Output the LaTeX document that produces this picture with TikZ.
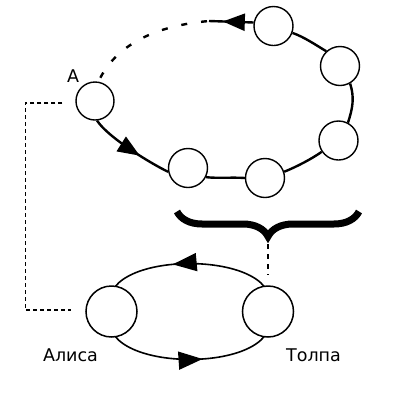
\documentclass[tikz,border=0pt]{standalone}
\usepackage{fontspec}
\setmainfont{DejaVu Sans}
\usetikzlibrary{arrows.meta,decorations.markings,decorations.pathreplacing,backgrounds}
\begin{document}
\begin{tikzpicture}[x=1pt,y=1pt,
  bead/.style={circle,draw,line width=1.4pt,fill=white,minimum size=39pt,inner sep=0pt},
  bigbead/.style={circle,draw,line width=1.5pt,fill=white,minimum size=51pt,inner sep=0pt},
  ring/.style={line width=2.4pt},
  thinring/.style={line width=1.6pt},
  midarrow/.style={postaction={decorate},decoration={markings,mark=at position #1 with {\arrow{Triangle[length=22pt,width=17pt]}}}},
  midarrowb/.style={postaction={decorate},decoration={markings,mark=at position #1 with {\arrow{Triangle[length=24pt,width=18pt]}}}},
  dotline/.style={line width=2.4pt,dash pattern=on 6pt off 14pt,dash phase=18pt},
  linkline/.style={line width=1.5pt,dash pattern=on 4pt off 3pt},
  braceline/.style={line width=2.3pt,dash pattern=on 5pt off 5pt},
  lbl/.style={font=\fontsize{17.5}{20}\selectfont,anchor=base,inner sep=0pt}]
\useasboundingbox (0,0) rectangle (400,-400);

% beads of the upper loop
\node[bead,minimum size=38pt] (A) at (95,-101) {};
\node[bead] (c2) at (188,-168) {};
\node[bead] (c3) at (265,-178) {};
\node[bead] (c4) at (338.5,-140.5) {};
\node[bead] (c5) at (340,-66) {};
\node[bead] (c6) at (273.5,-26) {};
\coordinate (d0) at (209,-21);

% lower loop
\node[bigbead] (alice) at (111.5,-311.5) {};
\node[bigbead] (tolpa) at (268,-311.5) {};

% labels
\node[lbl] (la) at (73,-82) {A};
\node[lbl] (lalice) at (70.5,-361) {Алиса};
\node[lbl] (ltolpa) at (313.5,-361) {Толпа};

% upper loop connectors
\draw[ring,midarrow=0.63] (A.-84) .. controls +(-57:20) and +(154:20) .. (c2.191);
\draw[ring] (c2.-27) .. controls +(-6:13) and +(176:13) .. (c3.180);
\draw[ring] (c3.18) .. controls +(22:13) and +(-145:13) .. (c4.214);
\draw[ring] (c4.62) .. controls +(72:15) and +(-72:15) .. (c5.-60);
\draw[ring] (c5.133) .. controls +(149:12) and +(-19:12) .. (c6.-20);
\draw[ring,midarrow=0.69] (c6.170) -- (d0);
\draw[dotline] (d0) .. controls +(185:55) and +(65:40) .. (A.80);

% lower loop connectors
\begin{scope}[on background layer]
\draw[thinring,midarrowb=0.58] (tolpa.center) .. controls +(70:68) and +(110:68) .. (alice.center);
\draw[thinring,midarrowb=0.56] (alice.center) .. controls +(-110:68) and +(-70:68) .. (tolpa.center);
\end{scope}

% dashed link A -- Alice
\draw[linkline] ([xshift=-13pt,yshift=-2pt]A.west) -- ++(-37,0) |- ([xshift=-14pt,yshift=1.5pt]alice.west);

% brace and its link to the crowd
\draw[line width=7pt,decorate,decoration={brace,amplitude=25pt}] (359,-211.5) -- (177,-211.5);
\coordinate (btip) at (268,-244);
\draw[braceline] (btip) -- ([yshift=11pt]tolpa.north);
\end{tikzpicture}
\end{document}
